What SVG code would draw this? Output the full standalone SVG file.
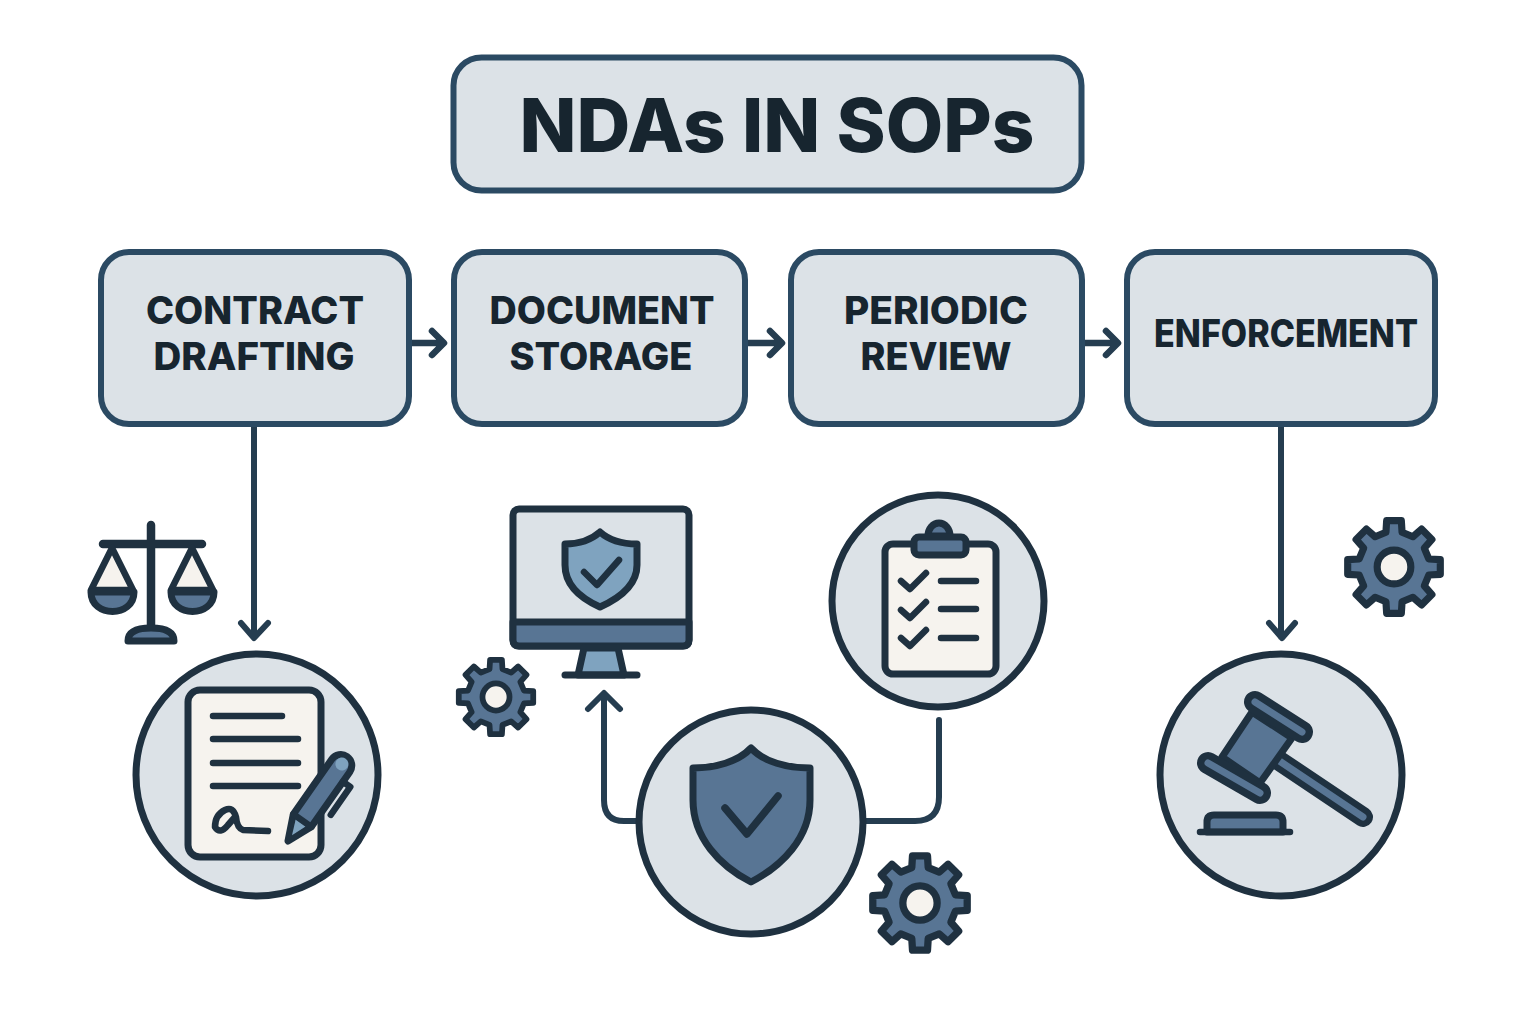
<svg xmlns="http://www.w3.org/2000/svg" xmlns:xlink="http://www.w3.org/1999/xlink" width="1536" height="1024" viewBox="0 0 1536 1024">
<style>
.box{fill:#dce2e7;stroke:#2b4a63;stroke-width:6}
.t{font-family:Inter,"Liberation Sans",sans-serif;font-weight:800;fill:#17252f;text-anchor:middle}
.lab{font-size:38px}
.circ{fill:#dce2e7;stroke:#1f3140;stroke-width:7}
.o{stroke:#1f3140;stroke-width:7;stroke-linejoin:round;stroke-linecap:round}
.l{fill:none;stroke:#1f3140;stroke-width:6.500;stroke-linecap:round;stroke-linejoin:round}
.paper{fill:#f6f3ee}.blue{fill:#587594}.lt{fill:#7fa3bf}
.con{fill:none;stroke:#253d50;stroke-width:6;stroke-linecap:round;stroke-linejoin:round}
</style>
<defs>
<g id="gear">
<path class="o blue" d="M-7.900-34.100L-7.200-45.400L7.200-45.400L7.900-34.100L18.500-29.700L27-37.200L37.200-27L29.700-18.500L34.100-7.900L45.400-7.200L45.400 7.200L34.100 7.900L29.700 18.500L37.200 27L27 37.200L18.500 29.700L7.900 34.100L7.200 45.400L-7.200 45.400L-7.900 34.100L-18.500 29.700L-27 37.200L-37.200 27L-29.700 18.500L-34.100 7.900L-45.400 7.200L-45.400-7.200L-34.100-7.900L-29.700-18.500L-37.200-27L-27-37.200L-18.500-29.700Z"/>
<circle class="paper" r="16.500" stroke="#1f3140" stroke-width="7"/>
</g>
</defs>
<rect width="1536" height="1024" fill="#fff"/>
<g id="connectors">
<path class="con" style="stroke-width:6.500" d="M411 343H443M432 331L444 343L432 355"/>
<path class="con" style="stroke-width:6.500" d="M747 343H781M770 331L782 343L770 355"/>
<path class="con" style="stroke-width:6.500" d="M1084 343H1117M1106 331L1118 343L1106 355"/>
<path class="con" d="M254 426V637M241 623L254 638L268 623"/>
<path class="con" d="M1281 426V637M1269 623L1282 638L1295 623"/>
<path class="con" d="M637 821H624Q604 821 604 800V695M588 709L604 693L620 709"/>
<path class="con" d="M865 821H915Q939 821 939 797V720"/>
</g>
<g id="title"><rect class="box" x="453.500" y="57.500" width="628" height="133" rx="28"/><text class="t" x="777" y="152" font-size="74" textLength="515" lengthAdjust="spacingAndGlyphs">NDAs IN SOPs</text></g>
<g id="contract-drafting"><rect class="box" x="101" y="252" width="308" height="172" rx="28"/><text class="t lab" x="255" y="324" textLength="218" lengthAdjust="spacingAndGlyphs">CONTRACT</text><text class="t lab" x="254" y="370" textLength="201" lengthAdjust="spacingAndGlyphs">DRAFTING</text></g>
<g id="document-storage"><rect class="box" x="454" y="252" width="291" height="172" rx="28"/><text class="t lab" x="602" y="324" textLength="225" lengthAdjust="spacingAndGlyphs">DOCUMENT</text><text class="t lab" x="601" y="370" textLength="183" lengthAdjust="spacingAndGlyphs">STORAGE</text></g>
<g id="periodic-review"><rect class="box" x="791" y="252" width="291" height="172" rx="28"/><text class="t lab" x="936" y="324" textLength="184" lengthAdjust="spacingAndGlyphs">PERIODIC</text><text class="t lab" x="936" y="370" textLength="151" lengthAdjust="spacingAndGlyphs">REVIEW</text></g>
<g id="enforcement"><rect class="box" x="1127" y="252" width="308" height="172" rx="28"/><text class="t lab" x="1286" y="347" textLength="264" lengthAdjust="spacingAndGlyphs">ENFORCEMENT</text></g>
<g id="scales">
<path class="l" style="stroke-width:8.500" d="M151 525V627M103 544H202"/>
<path class="l paper" d="M112 548L91 590H133Z"/>
<path class="l paper" d="M192 548L171 590H213Z"/>
<path class="o blue" d="M91 592H134C134 618 91 618 91 592Z"/>
<path class="o blue" d="M171 592H214C214 618 171 618 171 592Z"/>
<path class="o blue" d="M128 641C128 630 140 628 151 628C162 628 174 630 174 641Z"/>
</g>
<g id="contract-icon">
<circle class="circ" cx="257" cy="775" r="121"/>
<rect class="o paper" x="188" y="690" width="133" height="167" rx="12"/>
<path class="l" d="M213 716H282M213 739H298M213 763H298M213 786H298"/>
<path class="l" d="M268 831L243 830Q237 828 236 817Q233 806 225 810Q215 815 215 827Q220 835 228 825L235 817"/>
<g transform="translate(288 841) rotate(35)">
<path class="o blue" d="M0 0L-11-25V-92A11 11 0 0 1 11-92V-25Z"/>
<path class="lt" d="M0-7L-6-22H6Z"/>
<path class="l" d="M-11-25H11"/>
<circle class="lt" cy="-94" r="6.500"/>
<path class="l" d="M11-80H20V-46"/>
</g>
</g>
<g id="monitor">
<rect class="o" fill="#dce2e7" x="513" y="509" width="176" height="137" rx="6"/>
<path class="o blue" d="M513 622H689V640Q689 646 683 646H519Q513 646 513 640Z"/>
<path class="o lt" d="M584 648H618L624 675H578Z"/>
<path class="l" style="stroke-width:7" d="M565 675H637"/>
<path class="o lt" d="M600 532C590 541 578 544 565 544V565C565 585 580 598 600 607C620 598 637 585 637 565V544C622 544 610 541 600 532Z"/>
<path class="l" d="M584 572L597 585L619 560"/>
</g>
<g id="gear-small"><use xlink:href="#gear" href="#gear" transform="translate(496 697) scale(.82)"/></g>
<g id="checklist-icon">
<circle class="circ" cx="938" cy="601" r="106"/>
<rect class="o paper" x="885" y="544" width="111" height="130" rx="8"/>
<path class="o blue" d="M928 536A11 13 0 0 1 950 536Z"/>
<rect class="o blue" x="914" y="537" width="52" height="18" rx="5"/>
<path class="l" d="M901 581L910 589L926 573M901 610L910 618L926 602M901 638L910 646L926 630M941 581H976M941 609H976M941 638H976"/>
</g>
<g id="shield-icon">
<circle class="circ" cx="751" cy="822" r="112"/>
<path class="o blue" d="M751 748C738 762 715 768 693 768V800C693 838 720 866 751 882C782 866 810 838 810 800V768C787 768 764 762 751 748Z"/>
<path class="l" style="stroke-width:7.500" d="M725 808L747 834L778 796"/>
</g>
<g id="gear-medium"><use xlink:href="#gear" href="#gear" transform="translate(920 903) scale(1.04)"/></g>
<g id="gear-large"><use xlink:href="#gear" href="#gear" transform="translate(1394 567) scale(1.02)"/></g>
<g id="gavel-icon">
<circle class="circ" cx="1281" cy="775" r="121"/>
<path d="M1278 760L1363 817" stroke="#1f3140" stroke-width="20" stroke-linecap="round"/>
<path d="M1278 760L1363 817" stroke="#587594" stroke-width="7" stroke-linecap="round"/>
<path class="o blue" d="M1252 712L1292 738L1260 783L1222 757Z"/>
<path d="M1255 702L1302 732M1208 763L1260 793" stroke="#1f3140" stroke-width="22" stroke-linecap="round"/>
<path d="M1255 702L1302 732M1208 763L1260 793" stroke="#587594" stroke-width="7" stroke-linecap="round"/>
<path class="o blue" d="M1207 832V822Q1207 815 1214 815H1276Q1283 815 1283 822V832Z"/>
<path class="l" d="M1200 832H1290"/>
</g>
</svg>
